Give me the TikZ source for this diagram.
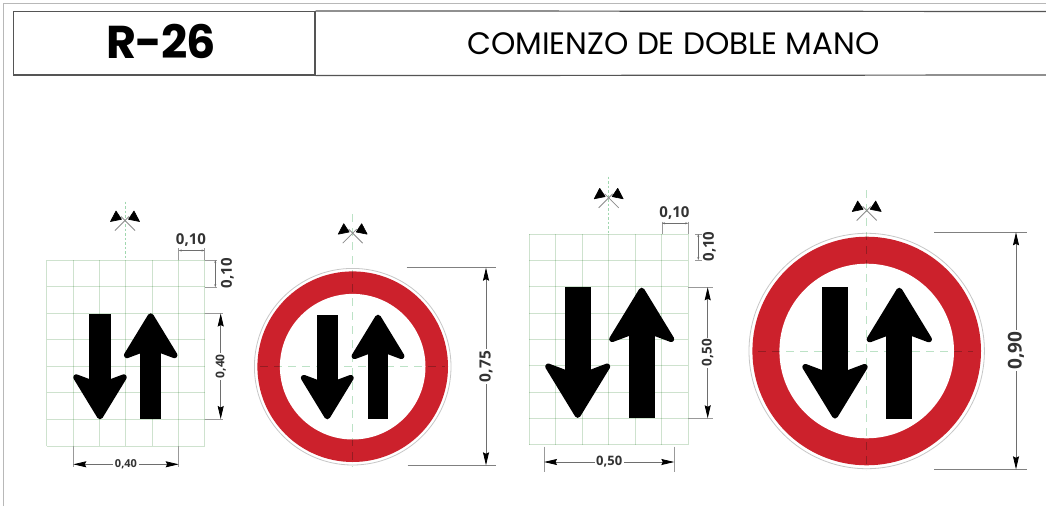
\documentclass[tikz,border=0pt]{standalone}
\usepackage{fontspec}
\usepackage{tikz}
\usetikzlibrary{arrows.meta, positioning}
\newfontfamily\titlefont{Poppins}
\newfontfamily\codefont[LetterSpace=-2]{Poppins}
\newfontfamily\dimfont{Open Sans}
\definecolor{signred}{RGB}{204,33,44}
\definecolor{gridgreen}{RGB}{206,226,206}
\definecolor{axisgreen}{RGB}{160,215,175}
\definecolor{ruleline}{RGB}{85,85,85}
\definecolor{dimgrey}{RGB}{110,110,110}

\tikzset{
  frameline/.style={draw=black!28, line width=1.4pt},
  headline/.style={draw=ruleline, line width=1.2pt},
  gridline/.style={draw=gridgreen, line width=0.9pt, blend mode=multiply},
  axisline/.style={draw=axisgreen, line width=0.9pt, dash pattern=on 8pt off 6pt, blend mode=multiply, draw opacity=.7},
  axisthin/.style={draw=axisgreen, line width=0.7pt, dash pattern=on 2.5pt off 2pt},
  dimtick/.style={draw=black!40, line width=0.8pt},
  signtick/.style={draw=black!50, line width=1.1pt},
  dimline/.style={draw=dimgrey, line width=0.8pt, {Stealth[length=13pt,width=6pt,inset=1.5pt,black]}-{Stealth[length=13pt,width=6pt,inset=1.5pt,black]}},
  dimsmall/.style={draw=dimgrey, line width=0.5pt, {Stealth[length=3pt,width=2pt]}-{Stealth[length=3pt,width=2pt]}},
  dimlabel/.style={fill=white, inner sep=1.5pt, text=black!80},
  signring/.style={circle, draw=black!22, line width=0.8pt, fill=white, inner sep=0pt},
  signdisc/.style={circle, fill=signred, inner sep=0pt},
  signhole/.style={circle, fill=white, inner sep=0pt},
  roadarrow/.pic={
    \filldraw[black, line width=6pt, line join=round] (0,.026) -- (.225,.395) -- (.1,.348) -- (-.1,.348) -- (-.225,.395) -- cycle;
    \fill[black] (-.1,.3) rectangle (.1,1);
  },
  sightmark/.pic={
    \draw[black!45, line width=0.8pt] (-10,10.5) -- (4,-3.5);
    \draw[black!45, line width=0.8pt] (10,10.5) -- (-4,-3.5);
    \filldraw[black, line width=0.6pt, line join=round] (-9,-9) -- (-14.5,1.5) -- (-3.5,-.7) -- cycle;
    \filldraw[black, line width=0.6pt, line join=round] (9,-9) -- (14.5,1.5) -- (3.5,-.7) -- cycle;
  }
}

% cols and rows of one sheet of squares
\newcommand{\sheetgrid}[6]{
  \foreach \i in {0,...,#3} \draw[gridline] ({#1+\i*#5},#2) -- ({#1+\i*#5},{#2+#4*#6});
  \foreach \j in {0,...,#4} \draw[gridline] (#1,{#2+\j*#6}) -- ({#1+#3*#5},{#2+\j*#6});
}
\newcommand{\dimsize}[1]{\dimfont\bfseries\fontsize{#1}{#1}\selectfont}

\begin{document}
\begin{tikzpicture}[x=1pt, y=-1pt]
  \useasboundingbox (0,0) rectangle (1046,506);
  \fill[white] (0,0) rectangle (1046,506);
  \draw[frameline] (3.5,506) -- (3.5,3.5) -- (1046,3.5);

  % header
  \node[draw=ruleline, line width=1.2pt, minimum width=301.5pt, minimum height=63.5pt, inner sep=0pt] (codebox) at (164.25,43.25) {};
  \node[font=\codefont\bfseries\fontsize{46}{46}\selectfont, inner sep=0pt] (code) at (161.5,41.5) {R-26};
  \node[font=\titlefont\fontsize{31}{31}\selectfont, inner sep=0pt] (title) at (673.5,44) {COMIENZO DE DOBLE MANO};
  \coordinate (rightup) at (1046,11.5);
  \coordinate (rightdown) at (1046,75);
  \draw[headline] (codebox.north east) -- (rightup);
  \draw[headline] (codebox.south east) -- (rightdown);

  % small sheet
  \pic[rotate=180, scale=105.5] at (100,419) {roadarrow};
  \pic[scale=105.5] at (150.7,313.5) {roadarrow};
  \sheetgrid{46.7}{260}{6}{7}{26.33}{26.57}
  \draw[axisthin] (125.7,201.5) -- (125.7,260);
  \pic at (125,220) {sightmark};
  \draw[dimtick] (178.7,248) -- (178.7,260) (204.7,248) -- (204.7,260);
  \draw[dimsmall] (178.7,250.5) -- (204.7,250.5);
  \node[dimlabel, font=\dimsize{15}, fill=none] (atoplabel) at (191,240) {0,10};
  \draw[dimtick] (204.7,260) -- (217,260) (204.7,287.3) -- (217,287.3);
  \draw[dimsmall] (215.3,260) -- (215.3,287.3);
  \node[dimlabel, font=\dimsize{15}, fill=none, rotate=90] (asidelabel) at (227.5,273) {0,10};
  \draw[dimtick] (204.7,313.5) -- (222.7,313.5) (204.7,419) -- (222.7,419);
  \draw[dimline] (220.7,313.5) -- node[dimlabel, font=\dimsize{12}, rotate=90] (aheightlabel) {0,40} (220.7,419);
  \draw[dimtick] (73.3,446) -- (73.3,467) (178.7,446) -- (178.7,467);
  \draw[dimline] (73.3,464.3) -- node[dimlabel, font=\dimsize{11}] (awidthlabel) {0,40} (178.7,464.3);

  % small sign
  \node[signring, minimum size=196.6pt] (signa) at (352.7,366.7) {};
  \node[signdisc, minimum size=190.6pt] (disca) at (signa) {};
  \node[signhole, minimum size=145.6pt] (holea) at (signa) {};
  \pic[rotate=180, scale=104] at (327.3,419) {roadarrow};
  \pic[scale=104] at (378,315) {roadarrow};
  \draw[axisline] (352.7,214) -- (352.7,467);
  \draw[axisline] (260,366.7) -- (445,366.7);
  \pic at (352.7,232.7) {sightmark};
  \draw[signtick] (406.7,267.7) -- (496,267.7) (407.7,465.3) -- (496,465.3);
  \draw[dimline] (486,267.7) -- node[dimlabel, font=\dimsize{15.5}, rotate=90] (signalabel) {0,75} (486,465.3);

  % large sheet
  \pic[rotate=180, scale=131] at (577.7,418.3) {roadarrow};
  \pic[scale=131] at (641.7,287.3) {roadarrow};
  \sheetgrid{529.3}{234}{6}{8}{26.5}{26.33}
  \draw[axisthin] (608.7,176.7) -- (608.7,234);
  \pic at (608.7,197.3) {sightmark};
  \draw[dimtick] (662,221.7) -- (662,234) (688.3,221.7) -- (688.3,234);
  \draw[dimsmall] (662,223.3) -- (688.3,223.3);
  \node[dimlabel, font=\dimsize{15}, fill=none] (btoplabel) at (674.5,213.5) {0,10};
  \draw[dimtick] (695,234) -- (702,234) (695,260) -- (702,260);
  \draw[dimsmall] (698.3,234) -- (698.3,260);
  \node[dimlabel, font=\dimsize{15}, fill=none, rotate=90] (bsidelabel) at (709.5,246.5) {0,10};
  \draw[dimtick] (688.3,287.3) -- (712.7,287.3) (688.3,418.3) -- (712.7,418.3);
  \draw[dimline] (707.7,287.3) -- node[dimlabel, font=\dimsize{13.5}, rotate=90] (bheightlabel) {0,50} (707.7,418.3);
  \draw[dimtick] (544,446.7) -- (544,471.7) (674.3,446.7) -- (674.3,471.7);
  \draw[dimline] (544,462) -- node[dimlabel, font=\dimsize{13}] (bwidthlabel) {0,50} (674.3,462);

  % large sign
  \node[signring, minimum size=235.4pt] (signb) at (866.7,351) {};
  \node[signdisc, minimum size=228.6pt] (discb) at (signb) {};
  \node[signhole, minimum size=174.6pt] (holeb) at (signb) {};
  \pic[rotate=180, scale=131.7] at (835,419) {roadarrow};
  \pic[scale=131.7] at (899.3,287.3) {roadarrow};
  \draw[axisline] (866.7,190) -- (866.7,470);
  \draw[axisline] (758.3,351) -- (973.3,351);
  \pic at (866.7,210) {sightmark};
  \draw[signtick] (934.3,232.3) -- (1026.7,232.3) (934.3,469.3) -- (1026.7,469.3);
  \draw[dimline] (1016,232.3) -- node[dimlabel, font=\dimsize{19}, rotate=90] (signblabel) {0,90} (1016,469.3);
\end{tikzpicture}
\end{document}
